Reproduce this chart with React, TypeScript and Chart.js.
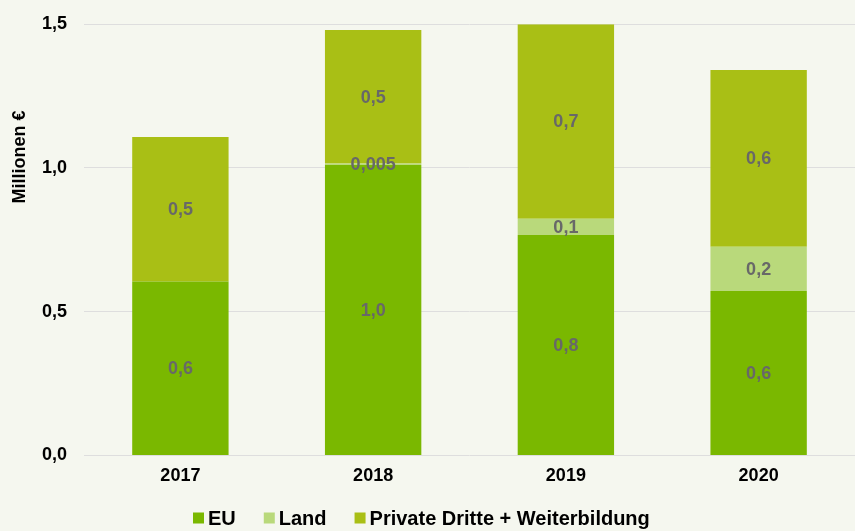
import React, { useEffect, useRef } from "react";
import { Chart, registerables } from "chart.js";

Chart.register(...registerables);

const categories = ["2017", "2018", "2019", "2020"];
const euValues = [0.605, 1.01, 0.767, 0.572];
const landValues = [0, 0.005, 0.056, 0.154];
const privateValues = [0.503, 0.465, 0.677, 0.615];
const yTickLabels = ["0,0", "0,5", "1,0", "1,5"];
const yTitle = "Millionen €";

const FONT = "'Liberation Sans', Arial, sans-serif";

const fmt = (v: number) =>
  (v < 0.01 ? v.toFixed(3) : v.toFixed(1)).replace(".", ",");

const labelPlugin = {
  id: "segLabels",
  afterDatasetsDraw(chart: any) {
    const { ctx } = chart;
    ctx.save();
    ctx.font = `bold 18px ${FONT}`;
    ctx.fillStyle = "#686868";
    ctx.textAlign = "center";
    ctx.textBaseline = "middle";
    chart.data.datasets.forEach((ds: any, di: number) => {
      const meta = chart.getDatasetMeta(di);
      meta.data.forEach((bar: any, i: number) => {
        const v = ds.data[i];
        if (!v) return;
        const y = (bar.y + bar.base) / 2;
        ctx.fillText(fmt(v), bar.x, y + 1);
      });
    });
    ctx.restore();
  },
};

const titlePlugin = {
  id: "yTitle",
  afterDraw(chart: any) {
    const { ctx } = chart;
    ctx.save();
    ctx.font = `bold 18px ${FONT}`;
    ctx.fillStyle = "#000";
    ctx.textAlign = "center";
    ctx.textBaseline = "middle";
    ctx.translate(20, 157);
    ctx.rotate(-Math.PI / 2);
    ctx.fillText(yTitle, 0, 0);
    ctx.restore();
  },
};

const legendPlugin = {
  id: "customLegend",
  afterDraw(chart: any) {
    const { ctx } = chart;
    ctx.save();
    ctx.font = `bold 20px ${FONT}`;
    ctx.textBaseline = "middle";
    ctx.textAlign = "left";
    const box = 11;
    const gap = 4;
    const spacing = 28;
    let x = 193;
    const cy = 518;
    chart.data.datasets.forEach((ds: any) => {
      ctx.fillStyle = ds.backgroundColor;
      ctx.fillRect(x, cy - box / 2, box, box);
      ctx.fillStyle = "#000";
      ctx.fillText(ds.label, x + box + gap, cy + 1);
      x += box + gap + ctx.measureText(ds.label).width + spacing;
    });
    ctx.restore();
  },
};

export default function App() {
  const ref = useRef<HTMLCanvasElement>(null);
  useEffect(() => {
    const chart = new Chart(ref.current!, {
      type: "bar",
      data: {
        labels: categories,
        datasets: [
          { label: "EU", data: euValues, backgroundColor: "#7ab800" },
          { label: "Land", data: landValues, backgroundColor: "#b9d97b" },
          {
            label: "Private Dritte + Weiterbildung",
            data: privateValues,
            backgroundColor: "#a9bf15",
          },
        ],
      },
      options: {
        animation: false,
        responsive: false,
        layout: { padding: { top: 6, right: 0, left: 25, bottom: 34 } },
        datasets: { bar: { categoryPercentage: 0.5, barPercentage: 1 } } as any,
        scales: {
          x: {
            stacked: true,
            grid: { display: false, drawTicks: false },
            border: { display: false },
            ticks: {
              padding: 10,
              color: "#000",
              font: { family: FONT, size: 18, weight: "bold" },
            },
          },
          y: {
            stacked: true,
            min: 0,
            max: 1.5,
            border: { display: false },
            grid: { color: "#dedede", drawTicks: false },
            ticks: {
              stepSize: 0.5,
              padding: 17,
              color: "#000",
              font: { family: FONT, size: 18, weight: "bold", lineHeight: 0.8 },
              callback: (_v: any, i: number) => yTickLabels[i],
            },
          },
        },
        plugins: {
          tooltip: { enabled: false },
          legend: { display: false },
        },
      },
      plugins: [labelPlugin, titlePlugin, legendPlugin],
    });
    return () => chart.destroy();
  }, []);
  return (
    <div
      style={{
        position: "fixed",
        left: 0,
        top: 0,
        width: 855,
        height: 531,
        background: "#f5f7ef",
      }}
    >
      <canvas ref={ref} width={855} height={531} />
    </div>
  );
}
